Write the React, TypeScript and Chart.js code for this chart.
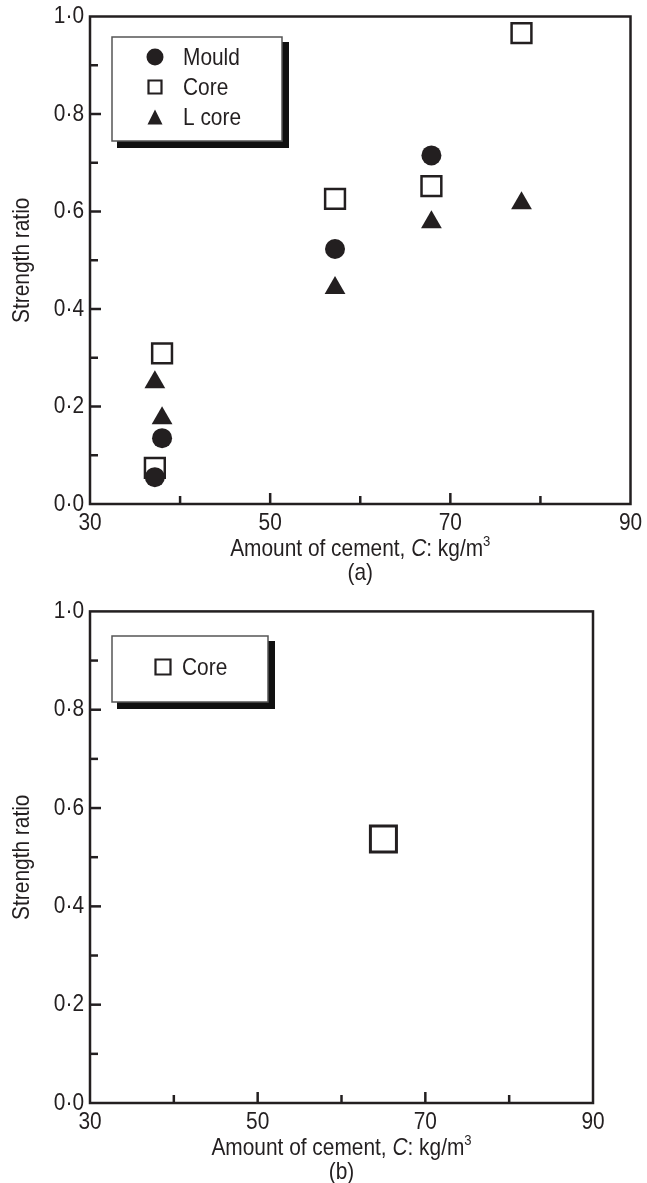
import React, { useEffect, useRef } from 'react';
import { Chart, registerables } from 'chart.js';

Chart.register(...registerables);

// ---------- data ----------
const mouldX = [37.2, 38.0, 57.2, 67.9];
const mouldY = [0.055, 0.135, 0.523, 0.715];
const coreX = [37.2, 38.0, 57.2, 67.9, 77.9];
const coreY = [0.074, 0.309, 0.626, 0.652, 0.966];
const lcoreX = [37.2, 38.0, 57.2, 67.9, 77.9];
const lcoreY = [0.25, 0.176, 0.443, 0.578, 0.617];
const coreBX = [65.0];
const coreBY = [0.537];

const xLabelled = [30, 50, 70, 90];
const yTickLabels = ['0·0', '0·2', '0·4', '0·6', '0·8', '1·0'];
const topLegend = ['Mould', 'Core', 'L core'];
const bottomLegend = ['Core'];
const xTitleParts = ['Amount of cement, ', 'C', ': kg/m', '3'];
const yTitle = 'Strength ratio';

const FONT = '"Liberation Sans", Arial, Helvetica, sans-serif';
const FS = 24;
const SX = 0.87; // horizontal condensing of the lettering
const INK = '#231f20';

function pts(xs: number[], ys: number[]) {
  return xs.map((x, i) => ({ x, y: ys[i] }));
}

// condensed text helper
function text(
  ctx: CanvasRenderingContext2D,
  s: string,
  x: number,
  y: number,
  align: CanvasTextAlign,
  font = `${FS}px ${FONT}`,
  baseline: CanvasTextBaseline = 'middle',
  rotate = 0
) {
  ctx.save();
  ctx.translate(x, y);
  if (rotate) ctx.rotate(rotate);
  ctx.scale(SX, 1);
  ctx.font = font;
  ctx.textAlign = align;
  ctx.textBaseline = baseline;
  ctx.fillStyle = INK;
  ctx.fillText(s, 0, 0);
  ctx.restore();
}

function drawMarker(ctx: CanvasRenderingContext2D, kind: string, x: number, y: number, s: number) {
  ctx.save();
  ctx.fillStyle = INK;
  ctx.strokeStyle = INK;
  if (kind === 'circle') {
    ctx.beginPath();
    ctx.arc(x, y, s / 2, 0, Math.PI * 2);
    ctx.fill();
  } else if (kind === 'rect') {
    ctx.lineWidth = 2.2;
    ctx.fillStyle = '#fff';
    ctx.beginPath();
    ctx.rect(x - s / 2, y - s / 2, s, s);
    ctx.fill();
    ctx.stroke();
  } else {
    ctx.beginPath();
    ctx.moveTo(x, y - s / 2);
    ctx.lineTo(x + s / 2, y + s / 2);
    ctx.lineTo(x - s / 2, y + s / 2);
    ctx.closePath();
    ctx.fill();
  }
  ctx.restore();
}

type LegendSpec = {
  box: [number, number, number, number];
  items: { kind: string; label: string; mx: number; my: number; size: number; tx: number }[];
};

function makeConfig(opts: {
  datasets: any[];
  padTop: number;
  padRight: number;
  xAxisHeight: number;
  legend: LegendSpec;
  titleY: number;
  sub: string;
}) {
  const framePlugin = {
    id: 'frameTicks',
    beforeDatasetsDraw(chart: any) {
      const ctx = chart.ctx as CanvasRenderingContext2D;
      const a = chart.chartArea;
      const xs = chart.scales.x;
      const ys = chart.scales.y;
      ctx.save();
      ctx.strokeStyle = INK;
      ctx.lineWidth = 2.5;
      ctx.lineCap = 'butt';
      ys.ticks.forEach((t: any) => {
        const v = t.value;
        const py = ys.getPixelForValue(v);
        if (t.label) text(ctx, String(t.label), a.left - 6, py, 'right');
        if (v <= 0.0001 || v >= 0.9999) return;
        const major = Math.round(v * 10) % 2 === 0;
        ctx.beginPath();
        ctx.moveTo(a.left, py);
        ctx.lineTo(a.left + (major ? 11 : 8), py);
        ctx.stroke();
      });
      xs.ticks.forEach((t: any) => {
        const v = t.value;
        const px = xs.getPixelForValue(v);
        if (t.label) text(ctx, String(t.label), px, a.bottom + 19, 'center');
        if (v <= 30 || v >= 90) return;
        const major = xLabelled.includes(v);
        ctx.beginPath();
        ctx.moveTo(px, a.bottom);
        ctx.lineTo(px, a.bottom - (major ? 11 : 8));
        ctx.stroke();
      });
      ctx.strokeRect(a.left, a.top, a.right - a.left, a.bottom - a.top);
      // y title
      text(ctx, yTitle, 22, (a.top + a.bottom) / 2, 'center', `${FS}px ${FONT}`, 'middle', -Math.PI / 2);
      ctx.restore();
    },
    afterDraw(chart: any) {
      const ctx = chart.ctx as CanvasRenderingContext2D;
      const a = chart.chartArea;
      const [bx, by, bw, bh] = opts.legend.box;
      ctx.save();
      ctx.fillStyle = '#111';
      ctx.fillRect(bx + 5, by + 5, bw + 2, bh + 2);
      ctx.fillStyle = '#fff';
      ctx.fillRect(bx, by, bw, bh);
      ctx.strokeStyle = '#555';
      ctx.lineWidth = 1.5;
      ctx.strokeRect(bx, by, bw, bh);
      opts.legend.items.forEach((it) => {
        drawMarker(ctx, it.kind, it.mx, it.my, it.size);
        text(ctx, it.label, it.tx, it.my + 1, 'left');
      });
      // x-axis title
      const cx = (a.left + a.right) / 2;
      const fN = `${FS}px ${FONT}`;
      const fI = `italic ${FS}px ${FONT}`;
      const fS = `15px ${FONT}`;
      const fonts = [fN, fI, fN, fS];
      const widths = xTitleParts.map((p, i) => {
        ctx.font = fonts[i];
        return ctx.measureText(p).width * SX;
      });
      const total = widths.reduce((s, w) => s + w, 0);
      let x = cx - total / 2;
      const base = opts.titleY + 8;
      xTitleParts.forEach((p, i) => {
        text(ctx, p, x, i === 3 ? base - 10 : base, 'left', fonts[i], 'alphabetic');
        x += widths[i];
      });
      text(ctx, opts.sub, cx, opts.titleY + 25, 'center');
      ctx.restore();
    },
  };

  return {
    type: 'scatter' as const,
    data: { datasets: opts.datasets },
    plugins: [framePlugin],
    options: {
      animation: false,
      responsive: false,
      devicePixelRatio: 1,
      layout: { padding: { top: opts.padTop, right: opts.padRight, left: 0, bottom: 0 } },
      plugins: { legend: { display: false }, tooltip: { enabled: false } },
      scales: {
        x: {
          type: 'linear',
          min: 30,
          max: 90,
          grid: { display: false, drawTicks: false },
          border: { display: false },
          afterFit: (s: any) => {
            s.height = opts.xAxisHeight;
            s.paddingLeft = 0;
            s.paddingRight = 0;
          },
          ticks: {
            display: false,
            stepSize: 10,
            autoSkip: false,
            callback: (v: any) => (xLabelled.includes(Number(v)) ? String(v) : ''),
          },
        },
        y: {
          type: 'linear',
          min: 0,
          max: 1,
          grid: { display: false, drawTicks: false },
          border: { display: false },
          afterFit: (s: any) => {
            s.width = 90;
            s.paddingTop = 0;
            s.paddingBottom = 0;
          },
          ticks: {
            display: false,
            stepSize: 0.1,
            autoSkip: false,
            callback: (v: any) => {
              const k = Math.round(Number(v) * 10);
              return k % 2 === 0 ? yTickLabels[k / 2] : '';
            },
          },
        },
      },
    },
  };
}

function ChartCanvas({ config, width, height }: { config: any; width: number; height: number }) {
  const ref = useRef<HTMLCanvasElement | null>(null);
  useEffect(() => {
    if (!ref.current) return;
    const chart = new Chart(ref.current, config);
    return () => chart.destroy();
  }, [config]);
  return <canvas ref={ref} width={width} height={height} style={{ display: 'block', width, height }} />;
}

const topConfig = makeConfig({
  datasets: [
    {
      label: topLegend[0],
      data: pts(mouldX, mouldY),
      pointStyle: 'circle',
      pointRadius: 10,
      backgroundColor: INK,
      borderWidth: 0,
    },
    {
      label: topLegend[1],
      data: pts(coreX, coreY),
      pointStyle: 'rect',
      pointRadius: 14,
      backgroundColor: '#fff',
      borderColor: INK,
      borderWidth: 2.5,
    },
    {
      label: topLegend[2],
      data: pts(lcoreX, lcoreY),
      pointStyle: 'triangle',
      pointRadius: 12,
      backgroundColor: INK,
      borderWidth: 0,
    },
  ],
  padTop: 13.5,
  padRight: 14,
  xAxisHeight: 86,
  legend: {
    box: [112, 37, 170, 104],
    items: [
      { kind: 'circle', label: topLegend[0], mx: 155, my: 57, size: 17, tx: 183 },
      { kind: 'rect', label: topLegend[1], mx: 155, my: 87, size: 13, tx: 183 },
      { kind: 'triangle', label: topLegend[2], mx: 155, my: 117, size: 15, tx: 183 },
    ],
  },
  titleY: 548,
  sub: '(a)',
});

const bottomConfig = makeConfig({
  datasets: [
    {
      label: bottomLegend[0],
      data: pts(coreBX, coreBY),
      pointStyle: 'rect',
      pointRadius: 18.4,
      backgroundColor: '#fff',
      borderColor: INK,
      borderWidth: 3,
    },
  ],
  padTop: 21,
  padRight: 54,
  xAxisHeight: 80,
  legend: {
    box: [112, 46, 156, 66],
    items: [{ kind: 'rect', label: bottomLegend[0], mx: 163, my: 77, size: 15, tx: 182 }],
  },
  titleY: 557,
  sub: '(b)',
});

export default function App() {
  useEffect(() => {
    document.body.style.margin = '0';
    document.body.style.background = '#fff';
  }, []);
  return (
    <div style={{ width: 647, height: 1183, background: '#fff' }}>
      <ChartCanvas config={topConfig} width={647} height={590} />
      <ChartCanvas config={bottomConfig} width={647} height={593} />
    </div>
  );
}
